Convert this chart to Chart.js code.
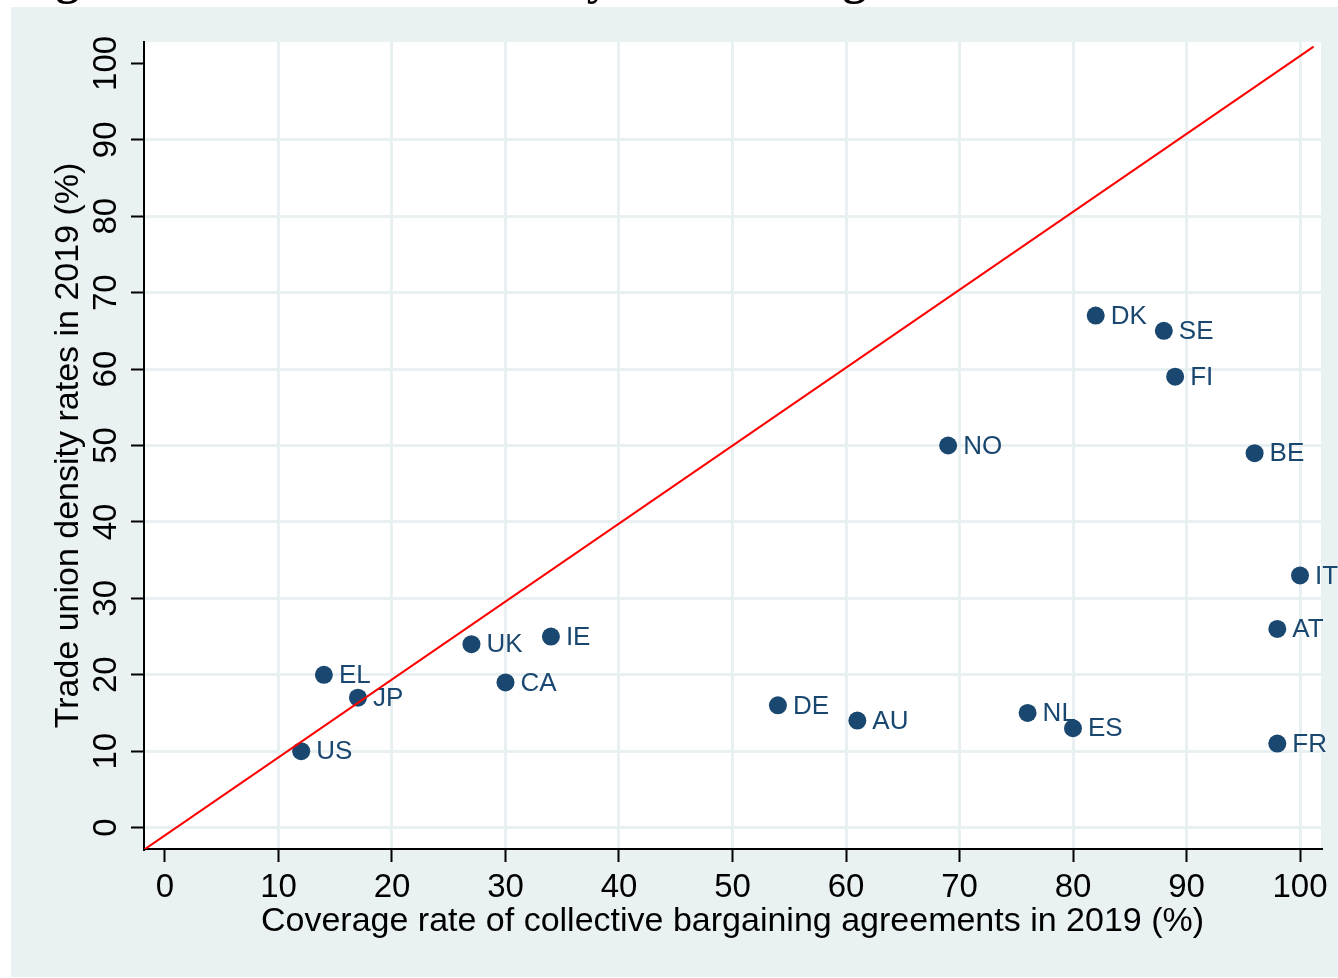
<!DOCTYPE html>
<html><head><meta charset="utf-8">
<script src="https://cdn.jsdelivr.net/npm/chart.js@4/dist/chart.umd.min.js"></script>
<style>html,body{margin:0;padding:0;background:#fff;} #wrap{width:1338px;height:978px;position:relative;}</style>
</head><body><div id="wrap"><canvas id="c" width="1338" height="978"></canvas></div>
<script>
// ---- data ----
const countries = ['US','EL','JP','UK','CA','IE','DE','AU','NO','NL','ES','DK','SE','FI','BE','IT','AT','FR'];
const coverage  = [12, 14, 17, 27, 30, 34, 54, 61, 69, 76, 80, 82, 88, 89, 96, 100, 98, 98];
const density   = [10, 20, 17, 24, 19, 25, 16, 14, 50, 15, 13, 67, 65, 59, 49, 33, 26, 11];
const xTicks = [0, 10, 20, 30, 40, 50, 60, 70, 80, 90, 100];
const yTicks = [0, 10, 20, 30, 40, 50, 60, 70, 80, 90, 100];
// reference (45-degree) line end points
const refLineX = [-1.85, 101.2];
const refLineY = [-2.9, 102.2];
const titleText = 'Figure 1: Trade union density and coverage rates';
const xTitle = 'Coverage rate of collective bargaining agreements in 2019 (%)';
const yTitle = 'Trade union density rates in 2019 (%)';

const BG = '#eaf1f3';
const GRID = '#e8f0f2';
const MARK = '#1a476f';
const FONT = '"Liberation Sans", Arial, Helvetica, sans-serif';

const bgPlugin = {
  id: 'bg',
  beforeDraw(chart) {
    const ctx = chart.ctx, a = chart.chartArea;
    ctx.save();
    ctx.fillStyle = '#fff';
    ctx.fillRect(0, 0, chart.width, chart.height);
    ctx.fillStyle = '#000';
    ctx.font = 'bold 47px "Liberation Serif", "Times New Roman", serif';
    ctx.textBaseline = 'alphabetic';
    ctx.fillText(titleText, 14, -6);
    ctx.fillStyle = BG;
    ctx.fillRect(11, 7, chart.width - 11, chart.height - 8);
    ctx.fillStyle = '#fff';
    ctx.fillRect(a.left, a.top, a.right - a.left, a.bottom - a.top);
    ctx.restore();
  }
};

const labelPlugin = {
  id: 'ptlabels',
  beforeDatasetsDraw(chart) {
    const ctx = chart.ctx;
    const meta = chart.getDatasetMeta(0);
    ctx.save();
    ctx.font = '26px ' + FONT;
    ctx.fillStyle = MARK;
    ctx.textBaseline = 'middle';
    ctx.textAlign = 'left';
    meta.data.forEach((pt, i) => ctx.fillText(countries[i], pt.x + 15, pt.y + 1));
    ctx.restore();
  }
};

new Chart(document.getElementById('c'), {
  type: 'scatter',
  data: {
    datasets: [
      {
        label: 'countries',
        data: coverage.map((v, i) => ({x: v, y: density[i]})),
        backgroundColor: MARK,
        borderWidth: 0,
        pointRadius: 9,
        pointHoverRadius: 9,
        order: 1
      },
      {
        type: 'line',
        label: 'y = x',
        data: refLineX.map((v, i) => ({x: v, y: refLineY[i]})),
        borderColor: '#ff0000',
        borderWidth: 2,
        pointRadius: 0,
        fill: false,
        clip: 0,
        order: 0
      }
    ]
  },
  options: {
    responsive: false,
    animation: false,
    devicePixelRatio: 1,
    events: [],
    layout: {padding: {top: 42, right: 17, left: 0, bottom: 0}},
    plugins: {legend: {display: false}, tooltip: {enabled: false}, title: {display: false}},
    scales: {
      x: {
        type: 'linear',
        min: -1.85, max: 101.85,
        afterBuildTicks: s => { s.ticks = xTicks.map(v => ({value: v})); },
        afterFit: s => { s.height = 129; },
        grid: {
          color: c => (c.tick && c.tick.value === 0) ? 'rgba(0,0,0,0)' : GRID,
          lineWidth: 3, tickColor: '#000', tickLength: 13, tickWidth: 2
        },
        border: {color: '#000', width: 2},
        ticks: {font: {family: FONT, size: 33}, color: '#000', padding: 6, maxRotation: 0, minRotation: 0, autoSkip: false},
        title: {display: true, text: xTitle, color: '#000', font: {family: FONT, size: 34}, padding: {top: 0, bottom: 36}}
      },
      y: {
        type: 'linear',
        min: -2.8, max: 102.8,
        afterBuildTicks: s => { s.ticks = yTicks.map(v => ({value: v})); },
        afterFit: s => { s.width = 144; },
        grid: {
          color: c => (c.tick && c.tick.value === 100) ? 'rgba(0,0,0,0)' : GRID,
          lineWidth: 3, tickColor: '#000', tickLength: 13, tickWidth: 2
        },
        border: {color: '#000', width: 2},
        ticks: {font: {family: FONT, size: 33}, color: '#000', padding: -3, minRotation: 90, maxRotation: 90, crossAlign: 'center', autoSkip: false},
        title: {display: true, text: yTitle, color: '#000', font: {family: FONT, size: 34}, padding: {top: 48, bottom: 0}}
      }
    }
  },
  plugins: [bgPlugin, labelPlugin]
});
</script>
</body></html>
